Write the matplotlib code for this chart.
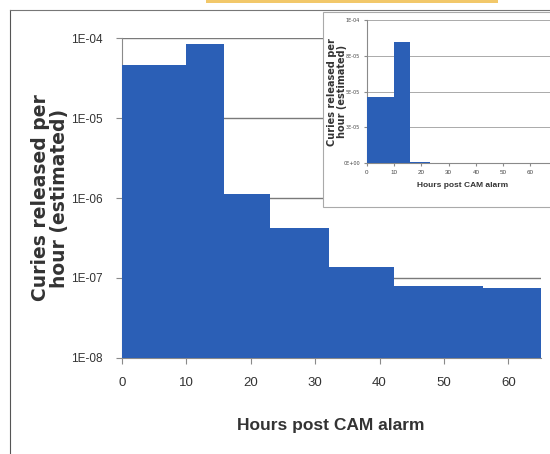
import numpy as np
import matplotlib
matplotlib.use("Agg")
import matplotlib.pyplot as plt
from matplotlib.patches import Rectangle

# step edges (hours post CAM alarm) and release rate per step (Ci/h)
edges = [0, 10, 15.8, 23.0, 32.1, 42.2, 56.1, 65.0]
rates = [4.6e-5, 8.5e-5, 1.13e-6, 4.2e-7, 1.38e-7, 7.9e-8, 7.4e-8]

main_yticks = [1e-8, 1e-7, 1e-6, 1e-5, 1e-4]
main_ylabels = ["1E-08", "1E-07", "1E-06", "1E-05", "1E-04"]
xticks = [0, 10, 20, 30, 40, 50, 60]

inset_yticks = [0, 2.5e-5, 5e-5, 7.5e-5, 1e-4]
inset_ylabels = ["0E+00", "3E-05", "5E-05", "8E-05", "1E-04"]

blue = "#2b5fb6"
grid = "#8a8a8a"
narrow = ["Liberation Sans", "DejaVu Sans"]

fig = plt.figure(figsize=(5.5, 4.54), dpi=100)

# page border and the yellow strip at the top
fig.add_artist(plt.Line2D([0.019, 0.019], [0, 0.978], color="#555555", lw=0.8))
fig.add_artist(plt.Line2D([0.019, 1.0], [0.978, 0.978], color="#777777", lw=0.8))
fig.add_artist(Rectangle((0.375, 0.993), 0.53, 0.007, color="#f2c86a", lw=0))

# main chart
ax = fig.add_axes([0.2213, 0.2121, 0.7617, 0.7035])
ax.stairs(rates, edges, fill=True, baseline=1e-8, color=blue, zorder=3)
ax.set_yscale("log")
ax.set_ylim(1e-8, 1e-4)
ax.set_xlim(0, 65)
ax.set_yticks(main_yticks)
ax.set_yticklabels(main_ylabels, family=narrow, fontsize=8.5, color="#333333")
ax.minorticks_off()
ax.set_xticks(xticks)
ax.set_xticklabels([str(t) for t in xticks], family=narrow, fontsize=9.5, color="#333333")
ax.tick_params(axis="both", length=4, color=grid)
ax.tick_params(axis="y", pad=10)
ax.tick_params(axis="x", pad=10)
ax.grid(axis="y", color="#7a7a7a", lw=1.0)
ax.set_axisbelow(True)
for s in ["top", "right"]:
    ax.spines[s].set_visible(False)
ax.spines["left"].set_color(grid)
ax.spines["bottom"].set_color(grid)
ax.set_xlabel("Hours post CAM alarm", family=narrow, fontsize=12.5, fontweight="bold",
              color="#333333")
ax.xaxis.set_label_coords(0.5, -0.19)
ax.set_ylabel("Curies released per\nhour (estimated)", fontsize=13.5, fontweight="bold",
              color="#333333", linespacing=1.0)
ax.yaxis.set_label_coords(-0.125, 0.5)

# inset (linear scale), partly cut off at the right edge
fig.add_artist(Rectangle((0.587, 0.544), 0.45, 0.43, facecolor="white",
                         edgecolor="#aaaaaa", lw=0.8, zorder=5))
ins = fig.add_axes([0.667, 0.6403, 0.347, 0.3156], zorder=6)
ins.stairs(rates, edges, fill=True, baseline=0, color=blue, zorder=3)
ins.set_xlim(0, 70)
ins.set_ylim(0, 1e-4)
ins.set_yticks(inset_yticks)
ins.set_yticklabels(inset_ylabels, fontsize=3.5, color="#444444")
ins.set_xticks(xticks)
ins.set_xticklabels([str(t) for t in xticks], family=narrow, fontsize=4.5, color="#444444")
ins.tick_params(axis="both", length=2, color=grid, pad=3)
ins.grid(axis="y", color="#aaaaaa", lw=0.7)
ins.set_axisbelow(True)
for s in ["top", "right"]:
    ins.spines[s].set_visible(False)
ins.spines["left"].set_color(grid)
ins.spines["bottom"].set_color(grid)
ins.set_xlabel("Hours post CAM alarm", family=narrow, fontsize=6, fontweight="bold",
               color="#333333", labelpad=5)
ins.set_ylabel("Curies released per\nhour (estimated)", fontsize=7, fontweight="bold",
               color="#333333", linespacing=1.0)
ins.yaxis.set_label_coords(-0.105, 0.5)

fig.savefig("out.png", dpi=100)
